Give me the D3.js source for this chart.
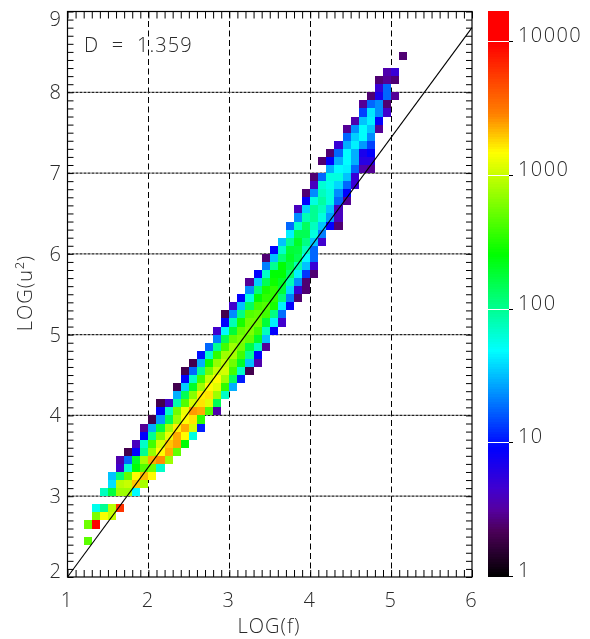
<!DOCTYPE html>
<html><head><meta charset="utf-8">
<script src="https://cdnjs.cloudflare.com/ajax/libs/d3/7.8.5/d3.min.js"></script>
<style>
html,body{margin:0;padding:0;background:#fff;}
svg{display:block;will-change:transform;}
text{font-family:"Open Sans",sans-serif;font-weight:300;fill:#2a2a2a;font-size:20px;}
</style></head><body><svg id="c" width="590" height="639"></svg>
<script>
// LOG(u^2) lower edge of each row of bins
const rowLogU=[2.4,2.6,2.7,2.8,3.0,3.1,3.2,3.3,3.4,3.5,3.6,3.7,3.8,3.9,4.0,4.1,4.2,4.3,4.4,4.5,4.6,4.7,4.8,4.9,5.0,5.1,5.2,5.3,5.4,5.5,5.6,5.7,5.8,5.9,6.0,6.1,6.2,6.3,6.4,6.5,6.6,6.7,6.8,6.9,7.0,7.1,7.2,7.3,7.4,7.5,7.6,7.7,7.8,7.9,8.0,8.1,8.2,8.4];
// LOG(f) lower edge of the first bin in each row
const rowStarts=[1.2,1.2,1.3,1.3,1.4,1.5,1.5,1.6,1.6,1.7,1.8,1.9,1.9,2.0,2.1,2.1,2.3,2.3,2.4,2.4,2.5,2.6,2.7,2.8,2.8,2.9,2.9,3.0,3.1,3.2,3.2,3.3,3.4,3.4,3.5,3.6,3.7,3.7,3.8,3.8,3.9,3.9,4.0,4.0,4.2,4.1,4.2,4.3,4.4,4.4,4.5,4.6,4.6,4.7,4.8,4.8,4.9,5.1];
// Counts per bin, row by row
const rowCounts=[
[480],[550,10000],[600,1400,1000],[55,100,900,6000],
[75,170,750,750,48],[40,900,1000,2000,800],[33,120,500,1500,2100,1500],[4.5,65,250,450,550,70],
[3.5,18,200,800,2300,2700,750],[2,9,100,700,1500,2300,500],[4,70,400,1100,2000,2400,250],[9,100,600,1300,2300,1500,60],
[3,29,170,800,1600,2300,1100,11],[2,25,150,750,1500,1700,350],[9,70,550,1300,2500,2300,450,3.5],[2,4.5,85,450,1100,1700,1200,150],
[29,150,650,1600,1700,750,70],[2,36,200,750,1500,1200,350,29],[9,70,400,1000,1500,750,140,11],[2,18,100,550,1000,1100,400,70,2],
[2,29,280,700,950,550,200,33,3.5],[10,70,350,750,800,400,100,9],[18,100,400,750,550,170,75,3],[21,150,500,600,500,200,33],
[4.5,48,180,500,600,400,75,9],[9,80,300,550,550,180,45,4.5],[2,23,110,450,500,400,110,19],[4.5,33,140,400,450,300,45,9],
[9,60,250,350,350,120,21,2.5],[23,120,300,350,180,38,5,2.5],[3,36,150,280,200,80,23,2.5],[9,70,250,250,130,45,13,2.5],
[21,100,250,170,80,33,5],[2.5,33,120,200,150,48,18],[9,70,180,170,75,18],[33,100,200,110,33,4.5],
[45,150,150,60,21],[18,70,140,75,33,9,2.5],[23,80,100,60,25,4],[4,36,100,75,33,4],
[9,60,90,60,18,3],[2.5,23,75,60,23,9],[4,65,55,38,18,5],[2.5,18,60,60,33,5],
[29,48,45,18,3.5,3],[2.5,9,29,49,29,6,6],[2.5,18,49,29,7,9],[5,29,45,25,14],
[18,36,50,23],[3,23,50,33,3],[3.5,33,45,9],[14,42,23,4.5],
[3,18,23,2.5],[2.5,7,18,3],[5,18],[2.5,3,2.5],[3.5,5],[2.5]];
const binWidth=0.1;
const xTicks=[1,2,3,4,5,6];
const yTicks=[2,3,4,5,6,7,8,9];
const barTicks=[1,10,100,1000,10000];
const fitLogF=[1,6];
const fitLogU=[2,8.8];
const annotation="D  =  1.359";
const colorPos=[0,0.34,0.5,0.66,0.96,1.69,2.05,2.41,3.17,3.46,3.99,4.22];
const colorHex=["#000000","#4b0058","#5500a0","#4000d0","#0000ff","#00ffff","#00ff80","#00ff00","#ffff00","#ff8000","#ff0000","#ff0000"];

const svg=d3.select("#c");
const L=67.5,R=472,T=11.5,B=577;
const x=d3.scaleLinear().domain([1,6]).range([L,R]);
const y=d3.scaleLinear().domain([2,9]).range([B,T]);
const color=d3.scaleLinear().domain(colorPos).range(colorHex).clamp(true);
const barY=d3.scaleLog().domain([1,10000]).range([576,41]);
const barLin=d3.scaleLinear().domain([0,4]).range([576,41]);

const minorX=d3.range(1,6.001,0.1), minorY=d3.range(2,9.001,0.1);
// grid
svg.append("g").selectAll("line").data(xTicks.slice(1,-1)).join("line")
 .attr("x1",d=>Math.round(x(d))+.5).attr("x2",d=>Math.round(x(d))+.5).attr("y1",T).attr("y2",B)
 .attr("stroke","#000").attr("stroke-dasharray","6 3.5");
svg.append("g").selectAll("line").data(yTicks.slice(1,-1)).join("line")
 .attr("y1",d=>y(d)).attr("y2",d=>y(d)).attr("x1",L).attr("x2",R)
 .attr("stroke","#222").attr("stroke-width",1.3).attr("stroke-dasharray","3 1");
// cells
const cells=rowCounts.flatMap((r,k)=>r.map((v,n)=>({f:rowStarts[k]+n*binWidth,u:rowLogU[k],v})));
svg.append("g").attr("shape-rendering","crispEdges").selectAll("rect").data(cells).join("rect")
 .attr("x",d=>x(d.f)).attr("width",d=>x(d.f+binWidth)-x(d.f))
 .attr("y",d=>y(d.u+binWidth)).attr("height",d=>y(d.u)-y(d.u+binWidth))
 .attr("fill",d=>color(Math.log10(d.v)));
// axes (ticks inside)
function ax(g,a){g.call(a);g.select(".domain").remove();g.selectAll("line").attr("stroke","#000").attr("stroke-width",1);g.selectAll("text").remove();}
svg.append("g").attr("transform",`translate(0,${B})`).call(g=>ax(g,d3.axisBottom(x).tickValues(minorX).tickSize(-7)));
svg.append("g").attr("transform",`translate(0,${T})`).call(g=>ax(g,d3.axisTop(x).tickValues(minorX).tickSize(-7)));
svg.append("g").attr("transform",`translate(${L},0)`).call(g=>ax(g,d3.axisLeft(y).tickValues(minorY).tickSize(-6)));
svg.append("g").attr("transform",`translate(${R},0)`).call(g=>ax(g,d3.axisRight(y).tickValues(minorY).tickSize(-6)));
svg.append("rect").attr("x",L).attr("y",T).attr("width",R-L).attr("height",B-T).attr("fill","none").attr("stroke","#000").attr("stroke-width",1.2);
// fit line
svg.append("path").attr("d",d3.line().x(d=>x(d[0])).y(d=>y(d[1]))(d3.zip(fitLogF,fitLogU))).attr("fill","none").attr("stroke","#000").attr("stroke-width",1.1);
// tick labels
svg.append("g").selectAll("text").data(xTicks).join("text").attr("x",d=>x(d)-1).attr("y",607).attr("text-anchor","middle").text(d=>d);
svg.append("g").selectAll("text").data(yTicks).join("text").attr("x",61).attr("text-anchor","end")
 .attr("y",d=>d===9?26:d===2?578:y(d)+7).text(d=>d);
svg.append("text").attr("x",269).attr("y",633).attr("text-anchor","middle").style("letter-spacing","1px").text("LOG(f)");
svg.append("text").attr("transform","translate(32,293) rotate(-90)").attr("text-anchor","middle").style("letter-spacing","1px").text("LOG(u²)");
svg.append("text").attr("x",84).attr("y",52).style("white-space","pre").style("letter-spacing","1.1px").text(annotation);
// colour bar
const barBands=d3.range(0,226);
const bandH=(576-11)/226;
svg.append("g").attr("shape-rendering","crispEdges").selectAll("rect").data(barBands).join("rect")
 .attr("x",488).attr("width",21).attr("y",d=>576-(d+1)*bandH).attr("height",bandH+.5)
 .attr("fill",d=>color(barLin.invert(576-(d+.5)*bandH)));
svg.append("g").selectAll("line").data(barTicks.slice(1)).join("line").attr("x1",488).attr("x2",509).attr("y1",d=>Math.round(barY(d))+.5).attr("y2",d=>Math.round(barY(d))+.5).attr("stroke","#fff");
svg.append("g").selectAll("line").data(barTicks).join("line").attr("x1",509).attr("x2",513).attr("y1",d=>Math.round(barY(d))+.5).attr("y2",d=>Math.round(barY(d))+.5).attr("stroke","#000");
svg.append("g").selectAll("text").data(barTicks).join("text").attr("x",518).attr("y",d=>barY(d)+1).style("letter-spacing","1.4px").text(d=>d);
</script></body></html>
